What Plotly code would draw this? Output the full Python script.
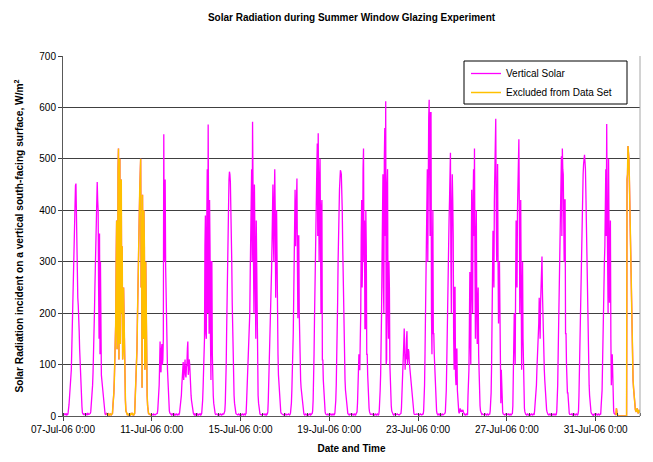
import pandas as pd
import plotly.graph_objects as go

# Half-hourly vertical solar radiation readings (W/m2), 00:00 .. 23:30 of each day
jul07 = [3, 4, 3, 4, 3, 5, 3, 2, 4, 3, 2, 6,
         12, 22, 35, 50, 65, 78, 90, 130, 170, 215, 260, 320, 380, 410, 440, 448, 452, 380, 300, 260,
         230, 215, 200, 165, 130, 100, 70, 50, 35, 18, 6, 4, 3, 4, 3, 4]
jul08 = [4, 3, 5, 3, 4, 3, 5, 4, 3, 4, 3, 5,
         8, 18, 30, 45, 60, 85, 110, 150, 200, 250, 300, 350, 400, 440, 455, 420, 400, 250, 150, 355,
         120, 300, 110, 80, 70, 60, 45, 30, 20, 10, 6, 4, 3, 4, 5, 3]
jul09 = [3, 2, 4, 3, 2, 3, 4, 3, 2, 3, 4, 5,
         20, 30, 45, 70, 100, 140, 180, 300, 380, 130, 150, 480, 520, 110, 300, 500, 140, 420, 460, 200,
         330, 110, 130, 250, 190, 90, 55, 30, 10, 6, 4, 3, 4, 3, 2, 3]
jul10 = [3, 4, 2, 3, 4, 5, 3, 4, 3, 2, 4, 5,
         30, 50, 70, 100, 130, 190, 260, 320, 380, 420, 440, 470, 500, 250, 380, 55, 430, 200, 150, 400,
         330, 90, 110, 300, 160, 60, 40, 20, 8, 5, 4, 3, 4, 3, 2, 4]
jul11 = [3, 4, 3, 2, 4, 3, 4, 2, 3, 4, 3, 5,
         5, 12, 25, 40, 60, 100, 145, 90, 85, 130, 140, 100, 110, 150, 548, 300, 420, 460, 290, 200,
         180, 140, 90, 60, 35, 20, 10, 6, 4, 3, 3, 2, 4, 3, 4, 3]
jul12 = [3, 2, 4, 3, 2, 3, 4, 3, 2, 3, 4, 3,
         5, 12, 20, 30, 40, 60, 75, 95, 105, 70, 80, 100, 110, 80, 75, 95, 100, 130, 145, 80,
         90, 110, 100, 70, 55, 40, 30, 20, 15, 8, 5, 3, 2, 4, 3, 2]
jul13 = [4, 3, 2, 4, 3, 2, 3, 4, 3, 2, 4, 3,
         5, 15, 30, 55, 80, 120, 150, 330, 390, 160, 150, 380, 480, 200, 567, 350, 160, 420, 330, 150,
         70, 300, 300, 120, 50, 40, 25, 15, 10, 5, 3, 4, 3, 4, 3, 2]
jul14 = [3, 4, 3, 2, 3, 4, 3, 2, 3, 4, 3, 4,
         4, 6, 10, 25, 50, 100, 170, 250, 320, 380, 430, 460, 475, 470, 455, 420, 380, 300, 220, 150,
         100, 65, 40, 25, 15, 8, 5, 4, 3, 3, 2, 3, 4, 3, 2, 4]
jul15 = [4, 3, 2, 3, 4, 3, 2, 3, 4, 3, 2, 4,
         5, 25, 50, 75, 100, 120, 140, 170, 200, 280, 350, 420, 480, 300, 572, 450, 300, 200, 450, 380,
         200, 150, 380, 250, 120, 70, 40, 25, 15, 8, 4, 3, 2, 3, 2, 3]
jul16 = [3, 2, 3, 4, 3, 2, 3, 4, 2, 3, 4, 8,
         30, 60, 100, 130, 150, 190, 220, 280, 330, 400, 450, 350, 300, 420, 480, 400, 230, 330, 400, 260,
         160, 120, 80, 60, 40, 25, 15, 8, 5, 4, 3, 4, 3, 2, 3, 4]
jul17 = [2, 3, 4, 3, 2, 3, 2, 3, 4, 3, 2, 3,
         5, 12, 25, 50, 80, 120, 160, 230, 300, 380, 440, 330, 380, 445, 462, 300, 190, 350, 350, 200,
         110, 90, 70, 55, 45, 30, 20, 10, 6, 4, 3, 2, 3, 4, 3, 2]
jul18 = [3, 4, 3, 2, 3, 4, 3, 2, 4, 3, 4, 5,
         10, 30, 60, 120, 190, 270, 340, 380, 420, 480, 530, 350, 550, 400, 300, 450, 500, 350, 200, 400,
         420, 108, 110, 70, 45, 30, 15, 8, 4, 3, 3, 2, 3, 4, 3, 2]
jul19 = [2, 3, 4, 3, 2, 3, 4, 3, 2, 3, 4, 3,
         5, 15, 30, 60, 100, 160, 220, 300, 380, 410, 440, 460, 478, 475, 470, 440, 400, 330, 260, 200,
         140, 100, 70, 50, 40, 25, 15, 8, 5, 4, 3, 2, 3, 4, 3, 2]
jul20 = [3, 2, 3, 4, 3, 2, 3, 4, 3, 2, 4, 3,
         8, 25, 50, 80, 120, 90, 90, 150, 200, 350, 420, 250, 300, 480, 520, 300, 380, 170, 170, 400,
         330, 120, 120, 80, 45, 30, 15, 8, 4, 3, 3, 4, 3, 4, 3, 2]
jul21 = [4, 3, 2, 3, 4, 3, 2, 3, 4, 3, 2, 3,
         10, 25, 50, 80, 120, 200, 300, 400, 470, 250, 200, 500, 560, 350, 612, 100, 110, 450, 480, 200,
         150, 300, 250, 100, 60, 40, 20, 10, 5, 4, 3, 2, 3, 4, 3, 2]
jul22 = [3, 2, 3, 4, 3, 2, 3, 2, 3, 4, 3, 5,
         15, 35, 60, 80, 100, 140, 170, 95, 90, 120, 110, 150, 165, 100, 110, 130, 125, 105, 95, 80,
         60, 55, 50, 35, 20, 12, 8, 5, 3, 3, 3, 2, 3, 4, 3, 4]
jul23 = [3, 4, 3, 2, 3, 4, 3, 4, 2, 3, 4, 3,
         10, 30, 60, 120, 200, 250, 300, 400, 480, 300, 560, 580, 615, 450, 350, 590, 590, 200, 120, 300,
         400, 160, 160, 120, 90, 60, 40, 20, 10, 5, 3, 2, 3, 4, 3, 2]
jul24 = [4, 3, 2, 3, 4, 3, 2, 3, 4, 3, 5, 8,
         20, 50, 100, 180, 250, 270, 300, 380, 420, 470, 512, 300, 200, 400, 470, 420, 350, 150, 90, 250,
         250, 80, 60, 130, 130, 50, 25, 15, 8, 5, 10, 15, 8, 12, 10, 8]
jul25 = [10, 12, 8, 5, 3, 4, 3, 2, 3, 4, 3, 2,
         40, 60, 90, 180, 280, 150, 100, 300, 440, 250, 200, 420, 480, 350, 520, 300, 150, 330, 400, 200,
         140, 220, 250, 120, 50, 35, 20, 10, 5, 3, 3, 4, 3, 4, 3, 2]
jul26 = [2, 3, 4, 3, 2, 3, 4, 3, 2, 3, 4, 3,
         10, 25, 45, 100, 190, 280, 360, 300, 250, 420, 520, 560, 578, 400, 300, 400, 490, 300, 180, 250,
         300, 150, 50, 25, 90, 40, 12, 8, 4, 3, 3, 2, 3, 4, 3, 2]
jul27 = [3, 2, 3, 4, 3, 2, 3, 4, 3, 2, 3, 4,
         5, 20, 60, 130, 200, 150, 100, 250, 380, 300, 250, 400, 450, 500, 538, 400, 200, 300, 420, 200,
         90, 200, 300, 150, 60, 30, 15, 8, 4, 3, 3, 2, 3, 4, 3, 2]
jul28 = [3, 4, 3, 2, 3, 4, 3, 2, 3, 4, 3, 2,
         10, 20, 35, 50, 60, 90, 110, 120, 130, 180, 230, 170, 150, 220, 280, 300, 310, 240, 180, 150,
         120, 90, 70, 50, 35, 20, 12, 8, 4, 3, 3, 2, 3, 4, 3, 2]
jul29 = [4, 3, 2, 3, 4, 3, 2, 3, 4, 3, 2, 3,
         10, 30, 60, 120, 190, 260, 330, 380, 420, 470, 505, 350, 520, 480, 470, 300, 300, 420, 420, 160,
         160, 100, 60, 45, 45, 25, 10, 5, 3, 3, 2, 3, 4, 3, 2, 4]
jul30 = [3, 2, 3, 4, 3, 2, 3, 4, 3, 2, 4, 10,
         40, 90, 150, 230, 300, 350, 400, 430, 450, 470, 490, 500, 508, 495, 480, 430, 370, 300, 230, 170,
         120, 90, 60, 40, 25, 15, 8, 5, 3, 3, 2, 3, 2, 3, 4, 2]
jul31 = [2, 3, 4, 3, 2, 3, 4, 3, 2, 3, 4, 3,
         20, 35, 50, 100, 180, 200, 250, 300, 330, 450, 480, 350, 568, 400, 300, 200, 500, 400, 220, 300,
         380, 150, 60, 100, 120, 50, 20, 10, 5, 4, 3, 2, 2, 15, 8, 2]
aug01 = [0, 0, 0, 0, 0, 0, 0, 0, 0, 0, 0, 0,
         0, 0, 0, 0, 0, 0, 0, 0, 460, 470, 525, 510, 500, 460, 400, 360, 336, 260, 200, 140,
         96, 70, 55, 40, 31, 20, 12, 10, 8, 12, 15, 10, 5, 8, 12, 6]

series_start = "2006-07-07 00:00"

# periods excluded from the data set
excluded_starts = ["2006-07-08 23:00", "2006-07-31 22:00"]
excluded_ends = ["2006-07-10 23:30", "2006-08-01 23:30"]

# x-axis tick positions and labels
tick_dates = ["2006-07-07", "2006-07-11", "2006-07-15", "2006-07-19",
              "2006-07-23", "2006-07-27", "2006-07-31"]
tick_labels = ["07-Jul-06 0:00", "11-Jul-06 0:00", "15-Jul-06 0:00", "19-Jul-06 0:00",
               "23-Jul-06 0:00", "27-Jul-06 0:00", "31-Jul-06 0:00"]

days = [jul07, jul08, jul09, jul10, jul11, jul12, jul13, jul14, jul15, jul16,
        jul17, jul18, jul19, jul20, jul21, jul22, jul23, jul24, jul25, jul26,
        jul27, jul28, jul29, jul30, jul31, aug01]
values = [v for d in days for v in d]
times = pd.date_range(series_start, periods=len(values), freq="30min")

periods = [(pd.Timestamp(a), pd.Timestamp(b)) for a, b in zip(excluded_starts, excluded_ends)]
excluded = [v if any(a <= t <= b for a, b in periods) else None for t, v in zip(times, values)]

FONT = "Liberation Sans, Arial, sans-serif"

fig = go.Figure()
fig.add_trace(go.Scatter(x=times, y=values, mode="lines", name="Vertical Solar",
                         line=dict(color="#FF00FF", width=1.3)))
fig.add_trace(go.Scatter(x=times, y=excluded, mode="lines", name="Excluded from Data Set",
                         line=dict(color="#FFC000", width=1.5), connectgaps=False))

W, H = 653, 462
L, R, T, B = 63, 13, 56, 46
pw, ph = W - L - R, H - T - B

fig.update_layout(
    width=W, height=H,
    margin=dict(l=L, r=R, t=T, b=B, autoexpand=False),
    paper_bgcolor="white", plot_bgcolor="white",
    font=dict(family=FONT, size=10, color="black"),
    title=dict(text="<b>Solar Radiation during Summer Window Glazing Experiment</b>",
               font=dict(family=FONT, size=10, color="black"),
               x=0.5, xref="paper", xanchor="center",
               y=1 - 17 / H, yref="container", yanchor="middle"),
    xaxis=dict(
        type="date",
        range=["2006-07-07 00:00", "2006-08-02 00:00"],
        tickmode="array", tickvals=tick_dates, ticktext=tick_labels,
        ticks="outside", ticklen=4, tickcolor="#404040",
        showgrid=False, zeroline=False,
        showline=True, linecolor="#595959", linewidth=1,
        tickfont=dict(family=FONT, size=10, color="black"),
        minor=dict(tickmode="linear", tick0="2006-07-07", dtick=86400000,
                   ticks="inside", ticklen=3, tickcolor="#404040", showgrid=False),
        title=dict(text="<b>Date and Time</b>", font=dict(family=FONT, size=10, color="black"),
                   standoff=10),
        automargin=False,
    ),
    yaxis=dict(
        range=[0, 700], tickmode="linear", tick0=0, dtick=100,
        ticks="outside", ticklen=4, tickcolor="#404040",
        showgrid=True, gridcolor="#404040", gridwidth=1,
        zeroline=False,
        showline=True, linecolor="#595959", linewidth=1,
        tickfont=dict(family=FONT, size=10, color="black"),
        title=dict(text="<b>Solar Radiation incident on a vertical south-facing surface, W/m<sup>2</sup></b>",
                   font=dict(family=FONT, size=10.2, color="black"), standoff=13),
        automargin=False,
    ),
    legend=dict(
        x=(466 - L) / pw, y=(H - B - 59) / ph, xanchor="left", yanchor="top",
        bgcolor="rgba(0,0,0,0)", borderwidth=0,
        font=dict(family=FONT, size=10, color="black"),
    ),
    shapes=[
        dict(type="rect", xref="paper", yref="paper",
             x0=(464 - L) / pw, x1=(627 - L) / pw,
             y0=(H - B - 104) / ph, y1=(H - B - 61) / ph,
             line=dict(color="black", width=1), fillcolor="white", layer="above"),
        dict(type="line", xref="paper", yref="paper", x0=1, x1=1, y0=0, y1=1,
             line=dict(color="#A6A6A6", width=1), layer="above"),
    ],
)

fig.write_html("out.html", config={"displayModeBar": False},
               post_script="document.body.style.margin='0px';")
